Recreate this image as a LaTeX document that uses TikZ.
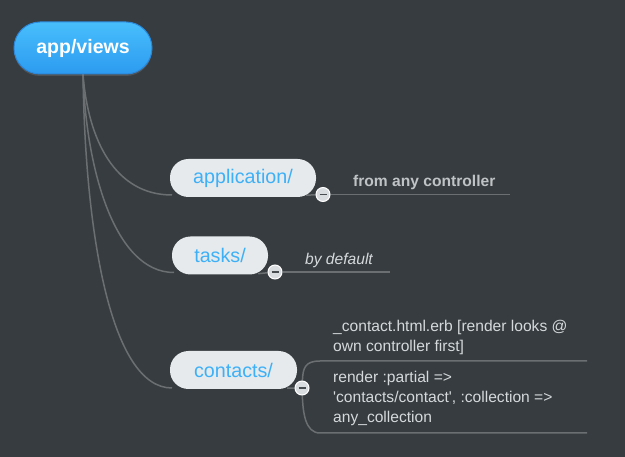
\documentclass[tikz,border=0pt]{standalone}
\usepackage{fontspec}
\setmainfont{Liberation Sans}
\usetikzlibrary{backgrounds,shadows}
\definecolor{bg}{HTML}{363C40}
\definecolor{conn}{HTML}{6B6F72}
\definecolor{rootTop}{HTML}{48BEFC}
\definecolor{rootBot}{HTML}{2C9BF0}
\definecolor{rootEdge}{HTML}{2C88DA}
\definecolor{childFill}{HTML}{E6EAEC}
\definecolor{childText}{HTML}{3DB0F7}
\definecolor{noteText}{HTML}{D5D9DB}
\definecolor{minusFill}{HTML}{D9DDE0}
\definecolor{minusDark}{HTML}{474C50}
\tikzset{
  rootbox/.style={rounded corners=26pt, minimum width=138pt, minimum height=52pt,
    top color=rootTop, bottom color=rootBot, draw=rootEdge, line width=1pt,
    drop shadow={opacity=0.35, shadow xshift=0pt, shadow yshift=-2pt},
    text=white, font=\fontsize{19.5}{22}\selectfont\bfseries, inner sep=0pt},
  childbox/.style={rounded corners=18.5pt, minimum height=38pt, fill=childFill,
    text=childText, font=\fontsize{19.7}{22}\selectfont, inner sep=0pt},
  conline/.style={draw=conn, line width=1.5pt},
  toggle/.style={circle, minimum size=14pt, inner sep=0pt, fill=minusFill, draw=white, line width=1pt,
    path picture={\draw[line width=1.6pt, minusDark]
      ([xshift=-3.5pt]path picture bounding box.center) -- ([xshift=3.5pt]path picture bounding box.center);}},
  notetext/.style={text=noteText, font=\fontsize{15.6}{20}\selectfont, inner sep=0pt, anchor=base west, align=left},
}
\begin{document}
\begin{tikzpicture}[x=1pt,y=-1pt]
\useasboundingbox (0,0) rectangle (625,457);

% nodes
\node[rootbox] (root) at (83,48) {app/views};
\node[childbox, minimum width=146pt] (app) at (243,178) {application/};
\node[childbox, minimum width=96pt] (tasks) at (220,255.5) {tasks/};
\node[childbox, minimum width=127pt] (cont) at (233.5,370) {contacts/};

\node[toggle] (t1) at (323,194.5) {};
\node[toggle] (t2) at (275,272) {};
\node[toggle] (t3) at (302,388) {};

% notes
\node[notetext, font=\fontsize{15.6}{20}\selectfont\bfseries, text=noteText!90!black] (n1) at (353,187) {from any controller};
\node[notetext, font=\fontsize{15.6}{20}\selectfont\itshape] (n2) at (305,265) {by default};
\node[notetext, anchor=north west] (n3) at (333,320) {\_contact.html.erb [render looks @\\own controller first]};
\node[notetext, anchor=north west] (n4) at (333,371) {render :partial =>\\\textquotesingle contacts/contact\textquotesingle, :collection =>\\any\_collection};

% connector anchor points
\coordinate (rs) at (83,74);
\coordinate (a1) at (172,195);
\coordinate (b1) at (174,272.5);
\coordinate (c1) at (172,388);
\coordinate (e1) at (510,194.5);
\coordinate (e2) at (390,272);
\coordinate (u1) at (320,361);
\coordinate (u2) at (587,361);
\coordinate (d1) at (320,433);
\coordinate (d2) at (587,433);

\begin{scope}[on background layer]
\fill[bg] (0,0) rectangle (625,457);
\draw[conline] (rs) .. controls (88,140) and (115,195) .. (a1);
\draw[conline] (rs) .. controls (86,170) and (115,272.5) .. (b1);
\draw[conline] (rs) .. controls (85,230) and (110,388) .. (c1);
\draw[conline] (app.south east) ++(-10,-2) -- (t1);
\draw[conline] (t1) -- (e1);
\draw[conline] (tasks.south east) ++(-10,-1) -- (t2);
\draw[conline] (t2) -- (e2);
\draw[conline] (cont.south east) ++(-10,-1) -- (t3);
\draw[conline] (t3) .. controls (303,368) and (305,361) .. (u1) -- (u2);
\draw[conline] (t3) .. controls (303,412) and (305,433) .. (d1) -- (d2);
\end{scope}
\end{tikzpicture}
\end{document}
